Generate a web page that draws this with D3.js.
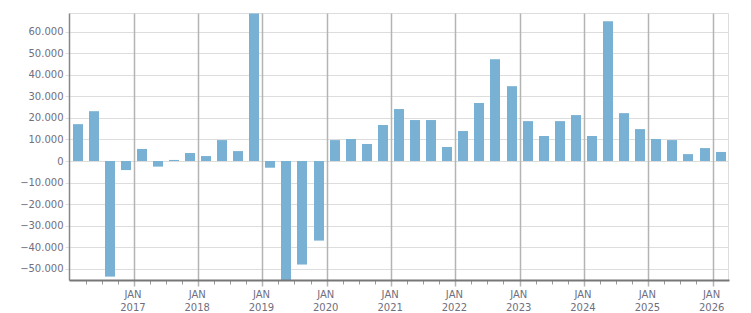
<!DOCTYPE html>
<html>
<head>
<meta charset="utf-8">
<script src="https://cdn.jsdelivr.net/npm/d3@7"></script>
<style>
  body { margin: 0; background: #fff; }
  text { font-family: "DejaVu Sans", sans-serif; font-size: 10px; fill: #6f6f80; }
</style>
</head>
<body>
<div id="chart"></div>
<script>
// quarterly values, 2016 Q1 .. 2026 Q1
const quarters = [
  "2016-01", "2016-04", "2016-07", "2016-10",
  "2017-01", "2017-04", "2017-07", "2017-10",
  "2018-01", "2018-04", "2018-07", "2018-10",
  "2019-01", "2019-04", "2019-07", "2019-10",
  "2020-01", "2020-04", "2020-07", "2020-10",
  "2021-01", "2021-04", "2021-07", "2021-10",
  "2022-01", "2022-04", "2022-07", "2022-10",
  "2023-01", "2023-04", "2023-07", "2023-10",
  "2024-01", "2024-04", "2024-07", "2024-10",
  "2025-01", "2025-04", "2025-07", "2025-10",
  "2026-01"
];
const values = [
  17100, 23100, -53600, -4200,
  5600, -2600, 500, 3700,
  2300, 9700, 4600, 68400,
  -3100, -55400, -48000, -36900,
  9700, 10200, 7900, 16700,
  24100, 19000, 19000, 6500,
  13900, 26900, 47200, 34700,
  18500, 11600, 18500, 21300,
  11600, 64800, 22200, 14800,
  10200, 9700, 3200, 6000,
  4200
];
const yTicks = [-50000, -40000, -30000, -20000, -10000, 0, 10000, 20000, 30000, 40000, 50000, 60000];
const yearTicks = [2017, 2018, 2019, 2020, 2021, 2022, 2023, 2024, 2025, 2026];

const width = 751, height = 313;
const m = { left: 69.5, right: 728.5, top: 13.5, bottom: 280.5 };

const parse = d3.timeParse("%Y-%m");
const data = quarters.map((q, i) => ({ date: parse(q), value: values[i] }));

const x = d3.scaleTime()
  .domain([new Date(2016, 0, 1), new Date(2026, 3, 1)])
  .range([m.left, m.right]);
const y = d3.scaleLinear()
  .domain(d3.extent(values))
  .range([m.bottom, m.top]);

const fmt = v => d3.format(",")(v).replace(/,/g, ".");
const px = v => Math.round(v) + 0.5;

const svg = d3.select("#chart").append("svg")
  .attr("width", width)
  .attr("height", height);

// horizontal grid
svg.append("g").selectAll("line")
  .data(yTicks)
  .enter().append("line")
  .attr("x1", m.left - 4).attr("x2", m.right)
  .attr("y1", d => px(y(d))).attr("y2", d => px(y(d)))
  .attr("stroke", "#dddddd");

// top and right border
svg.append("line").attr("x1", m.left).attr("x2", m.right).attr("y1", m.top).attr("y2", m.top).attr("stroke", "#dddddd");
svg.append("line").attr("x1", m.right).attr("x2", m.right).attr("y1", m.top).attr("y2", m.bottom).attr("stroke", "#dddddd");

// year grid lines
svg.append("g").selectAll("line")
  .data(yearTicks)
  .enter().append("line")
  .attr("x1", d => px(x(new Date(d, 0, 1))))
  .attr("x2", d => px(x(new Date(d, 0, 1))))
  .attr("y1", m.top).attr("y2", m.bottom + 6)
  .attr("stroke", "#b4b4b4")
  .attr("stroke-width", 1.5);

// quarter ticks
const qTicks = d3.timeMonth.every(3).range(new Date(2016, 3, 1), new Date(2026, 3, 1));
svg.append("g").selectAll("line")
  .data(qTicks.filter(d => d.getMonth() !== 0))
  .enter().append("line")
  .attr("x1", d => px(x(d))).attr("x2", d => px(x(d)))
  .attr("y1", m.bottom).attr("y2", m.bottom + 4)
  .attr("stroke", "#999999");

// bars
svg.append("g").selectAll("rect")
  .data(data)
  .enter().append("rect")
  .attr("x", d => Math.round((x(d.date) + x(d3.timeMonth.offset(d.date, 3))) / 2 - 5))
  .attr("width", 10)
  .attr("y", d => y(Math.max(0, d.value)))
  .attr("height", d => Math.abs(y(d.value) - y(0)))
  .attr("fill", "#78b1d4");

// axis lines
svg.append("line").attr("x1", m.left).attr("x2", m.left).attr("y1", m.top).attr("y2", m.bottom)
  .attr("stroke", "#888888").attr("stroke-width", 1.5);
svg.append("line").attr("x1", m.left).attr("x2", m.right + 1).attr("y1", m.bottom).attr("y2", m.bottom)
  .attr("stroke", "#777777").attr("stroke-width", 2);

// y labels
svg.append("g").selectAll("text")
  .data(yTicks)
  .enter().append("text")
  .attr("x", 63.5)
  .attr("y", d => y(d))
  .attr("dy", "0.36em")
  .attr("text-anchor", "end")
  .text(fmt);

// x labels
const xl = svg.append("g").selectAll("text")
  .data(yearTicks)
  .enter().append("text")
  .attr("text-anchor", "middle");
xl.append("tspan").attr("x", d => x(new Date(d, 0, 1)) - 1).attr("y", 298).text("JAN");
xl.append("tspan").attr("x", d => x(new Date(d, 0, 1)) - 1).attr("y", 311).text(d => d);
</script>
</body>
</html>
